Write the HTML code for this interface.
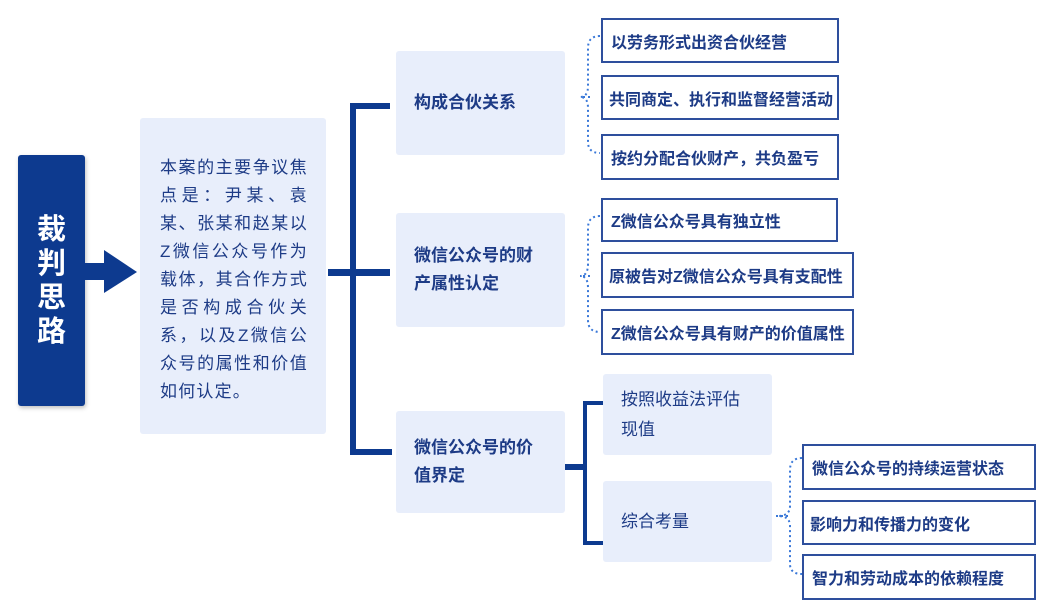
<!DOCTYPE html>
<html><head><meta charset="utf-8"><style>
body{margin:0;width:1053px;height:611px;background:#fff;position:relative;overflow:hidden;font-family:"Liberation Sans","Noto Sans CJK SC",sans-serif;}
.a{position:absolute;box-sizing:border-box}
.mid{background:#e8eefb;color:#1d3b86;font-weight:bold;font-size:17px;line-height:28px;padding-left:18px;display:flex;align-items:center;border-radius:3px}
.leaf{border:2px solid #2e4f9d;color:#1d3b86;font-weight:bold;font-size:16px;display:flex;align-items:center;padding-left:8px;background:#fff;white-space:nowrap}
.l{background:#0d3a8f;position:absolute}
.sub{background:#e8eefb;color:#1d3b86;font-size:17px;line-height:30px;padding-left:18px;display:flex;align-items:center;border-radius:3px}
</style></head><body>
<div class="a" style="left:18px;top:155px;width:67px;height:251px;background:#0d3a8f;border-radius:3px;color:#fff;font-weight:bold;font-size:29px;line-height:34px;display:flex;align-items:center;justify-content:center;text-align:center;box-shadow:1px 2px 4px rgba(0,0,0,.25)">裁<br>判<br>思<br>路</div>
<div class="l" style="left:85px;top:263px;width:22px;height:17px"></div>
<svg class="a" style="left:104px;top:250px" width="34" height="44"><polygon points="0,0 33,22 0,43" fill="#0d3a8f"/></svg>
<div class="a" style="left:140px;top:118px;width:186px;height:316px;background:#e8eefb;border-radius:3px;padding:36px 18px 0 20px;color:#1d3b86;font-size:17px;line-height:28px;text-align:justify;letter-spacing:1.2px">本案的主要争议焦点是：尹某、袁某、张某和赵某以Z微信公众号作为载体，其合作方式是否构成合伙关系，以及Z微信公众号的属性和价值如何认定。</div>
<div class="l" style="left:350px;top:103px;width:6px;height:352px"></div>
<div class="l" style="left:328px;top:269px;width:62px;height:7px"></div>
<div class="l" style="left:350px;top:103px;width:40px;height:6px"></div>
<div class="l" style="left:350px;top:449px;width:42px;height:6px"></div>
<div class="a mid" style="left:396px;top:51px;width:169px;height:104px">构成合伙关系</div>
<div class="a mid" style="left:396px;top:213px;width:169px;height:114px">微信公众号的财<br>产属性认定</div>
<div class="a mid" style="left:396px;top:411px;width:169px;height:102px">微信公众号的价<br>值界定</div>
<svg class="a" style="left:570px;top:0" width="40" height="611" fill="none" stroke="#3a78d8" stroke-width="2" stroke-dasharray="2 3">
<path d="M20,97 L10,97 M30,36 Q18,36 18,48 L18,86 Q18,97 10,97 Q18,97 18,108 L18,142 Q18,153 30,153"/>
<path d="M20,276 L10,276 M30,216 Q18,216 18,228 L18,264 Q18,276 10,276 Q18,276 18,288 L18,320 Q18,332 30,332"/>
</svg>
<div class="a leaf" style="left:601px;top:18px;width:238px;height:45px">以劳务形式出资合伙经营</div>
<div class="a leaf" style="left:601px;top:75px;width:238px;height:45px;padding-left:6px">共同商定、执行和监督经营活动</div>
<div class="a leaf" style="left:601px;top:134px;width:238px;height:46px">按约分配合伙财产，共负盈亏</div>
<div class="a leaf" style="left:601px;top:198px;width:237px;height:44px">Z微信公众号具有独立性</div>
<div class="a leaf" style="left:601px;top:252px;width:253px;height:46px;padding-left:6px">原被告对Z微信公众号具有支配性</div>
<div class="a leaf" style="left:601px;top:309px;width:253px;height:46px">Z微信公众号具有财产的价值属性</div>
<div class="l" style="left:565px;top:464px;width:22px;height:6px"></div>
<div class="l" style="left:583px;top:401px;width:4px;height:144px"></div>
<div class="l" style="left:583px;top:401px;width:20px;height:4px"></div>
<div class="l" style="left:583px;top:541px;width:20px;height:4px"></div>
<div class="a sub" style="left:603px;top:374px;width:169px;height:81px">按照收益法评估<br>现值</div>
<div class="a sub" style="left:603px;top:481px;width:169px;height:81px">综合考量</div>
<svg class="a" style="left:770px;top:440px" width="40" height="150" fill="none" stroke="#3a78d8" stroke-width="2" stroke-dasharray="2 3">
<path d="M18,76 L6,76 M32,18 Q20,18 20,30 L20,66 Q20,76 8,76 Q20,76 20,86 L20,124 Q20,134 32,134"/>
</svg>
<div class="a leaf" style="left:802px;top:444px;width:234px;height:46px">微信公众号的持续运营状态</div>
<div class="a leaf" style="left:802px;top:500px;width:234px;height:45px;padding-left:6px">影响力和传播力的变化</div>
<div class="a leaf" style="left:802px;top:554px;width:234px;height:46px">智力和劳动成本的依赖程度</div>
</body></html>
